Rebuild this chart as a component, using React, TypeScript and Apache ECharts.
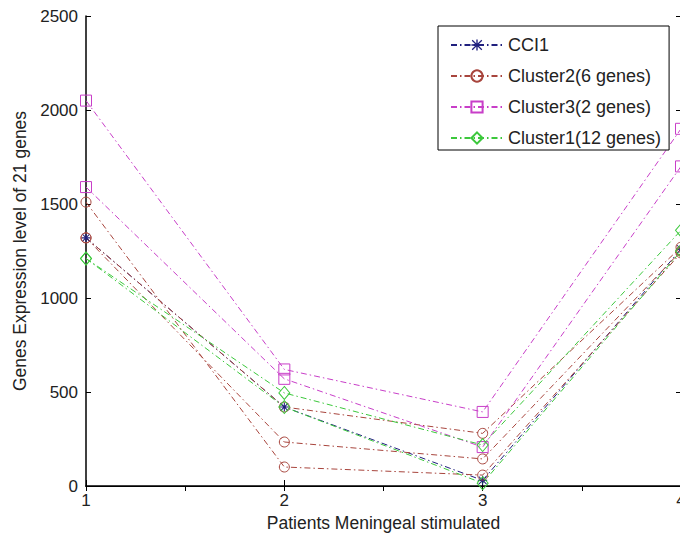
import React, { useEffect, useRef } from "react";
import * as echarts from "echarts";

// Patient groups on the x axis
const patients = [1, 2, 3, 4];

// Expression profiles (one array per gene trace)
const cci1 = [1320, 420, 30, 1260];
const cluster2A = [1510, 101, 58, 1240];
const cluster2B = [1320, 234, 144, 1250];
const cluster2C = [1320, 420, 280, 1270];
const cluster3A = [2050, 620, 394, 1900];
const cluster3B = [1590, 570, 207, 1700];
const cluster1A = [1210, 495, 218, 1360];
const cluster1B = [1210, 420, 15, 1250];

const yTicks = [0, 500, 1000, 1500, 2000, 2500];

const FONT = "'Liberation Sans', Arial, sans-serif";
const DASH_DOT = [6, 3, 1.5, 3];

const NAVY = "#20207e";
const BROWN = "#a8453d";
const MAGENTA = "#c83ec8";
const GREEN = "#3cc83c";

const ASTERISK =
  "path://M4.4 0h1.2v10h-1.2z M0 4.4h10v1.2h-10z M1.1 0.3L9.7 8.9L8.9 9.7L0.3 1.1z M8.9 0.3L9.7 1.1L1.1 9.7L0.3 8.9z";

type Trace = {
  name: string;
  values: number[];
  color: string;
  symbol: string;
  symbolSize: number | number[];
  filled: boolean;
};

const traces: Trace[] = [
  { name: "CCI1", values: cci1, color: NAVY, symbol: ASTERISK, symbolSize: 9, filled: true },
  { name: "Cluster2(6 genes)", values: cluster2A, color: BROWN, symbol: "circle", symbolSize: 10, filled: false },
  { name: "Cluster2(6 genes)", values: cluster2B, color: BROWN, symbol: "circle", symbolSize: 10, filled: false },
  { name: "Cluster2(6 genes)", values: cluster2C, color: BROWN, symbol: "circle", symbolSize: 10, filled: false },
  { name: "Cluster3(2 genes)", values: cluster3A, color: MAGENTA, symbol: "rect", symbolSize: 11, filled: false },
  { name: "Cluster3(2 genes)", values: cluster3B, color: MAGENTA, symbol: "rect", symbolSize: 11, filled: false },
  { name: "Cluster1(12 genes)", values: cluster1A, color: GREEN, symbol: "diamond", symbolSize: [11, 13], filled: false },
  { name: "Cluster1(12 genes)", values: cluster1B, color: GREEN, symbol: "diamond", symbolSize: [11, 13], filled: false },
];

const legendNames = ["CCI1", "Cluster2(6 genes)", "Cluster3(2 genes)", "Cluster1(12 genes)"];

export default function App() {
  const ref = useRef<HTMLDivElement>(null);

  useEffect(() => {
    if (!ref.current) return;
    const chart = echarts.init(ref.current, undefined, { renderer: "svg" });

    const axisLine = { show: true, lineStyle: { color: "#000", width: 1.5 } };
    const tickStyle = { color: "#000", width: 1 };
    const labelStyle = {
      fontSize: 17,
      color: "#222",
      fontFamily: FONT,
      formatter: (v: number) => String(v),
    };

    chart.setOption({
      animation: false,
      backgroundColor: "#fff",
      grid: {
        left: 86,
        top: 16,
        width: 595,
        height: 470,
        containLabel: false,
        outerBoundsMode: "none",
      },
      legend: {
        data: legendNames,
        orient: "vertical",
        left: 438,
        top: 26,
        padding: [10, 8, 3, 12],
        itemWidth: 52,
        itemHeight: 14,
        itemGap: 13,
        backgroundColor: "#fff",
        borderColor: "#000",
        borderWidth: 1,
        textStyle: { fontSize: 18, color: "#222", fontFamily: FONT, lineHeight: 14 },
      },
      xAxis: [
        {
          type: "value",
          position: "bottom",
          min: 1,
          max: 4,
          interval: 1,
          axisLine,
          axisTick: { show: true, inside: true, length: 6, lineStyle: tickStyle },
          axisLabel: { ...labelStyle, margin: 6 },
          splitLine: { show: false },
          name: "Patients Meningeal stimulated",
          nameLocation: "middle",
          nameGap: 28,
          nameTextStyle: { fontSize: 17.5, color: "#222", fontFamily: FONT },
        },
        {
          type: "value",
          position: "top",
          min: 1,
          max: 4,
          interval: 0.5,
          axisLine: { show: true, lineStyle: { color: "#000", width: 1.2 } },
          axisTick: { show: true, inside: true, length: 5, lineStyle: tickStyle },
          axisLabel: { show: false },
          splitLine: { show: false },
        },
      ],
      yAxis: [
        {
          type: "value",
          position: "left",
          min: yTicks[0],
          max: yTicks[yTicks.length - 1],
          interval: 500,
          axisLine,
          axisTick: { show: true, inside: true, length: 5, lineStyle: tickStyle },
          axisLabel: { ...labelStyle, margin: 8 },
          splitLine: { show: false },
          name: "Genes Expression level of 21 genes",
          nameLocation: "middle",
          nameGap: 51,
          nameTextStyle: { fontSize: 17.5, color: "#222", fontFamily: FONT },
        },
        {
          type: "value",
          position: "right",
          min: yTicks[0],
          max: yTicks[yTicks.length - 1],
          interval: 500,
          axisLine: { show: true, lineStyle: { color: "#000", width: 1 } },
          axisTick: { show: true, inside: true, length: 5, lineStyle: tickStyle },
          axisLabel: { show: false },
          splitLine: { show: false },
        },
      ],
      series: traces.map((t) => ({
        type: "line",
        name: t.name,
        xAxisIndex: 0,
        yAxisIndex: 0,
        data: patients.map((p, i) => [p, t.values[i]]),
        symbol: t.symbol,
        symbolSize: t.symbolSize,
        showSymbol: true,
        lineStyle: { color: t.color, width: 1, type: DASH_DOT },
        itemStyle: {
          color: t.filled ? t.color : "rgba(255,255,255,0)",
          borderColor: t.color,
          borderWidth: t.filled ? 0 : 1,
        },
        emphasis: { disabled: true },
      })),
    });

    return () => chart.dispose();
  }, []);

  return (
    <div
      ref={ref}
      style={{ position: "fixed", left: 0, top: 0, width: 680, height: 537, background: "#fff" }}
    />
  );
}
